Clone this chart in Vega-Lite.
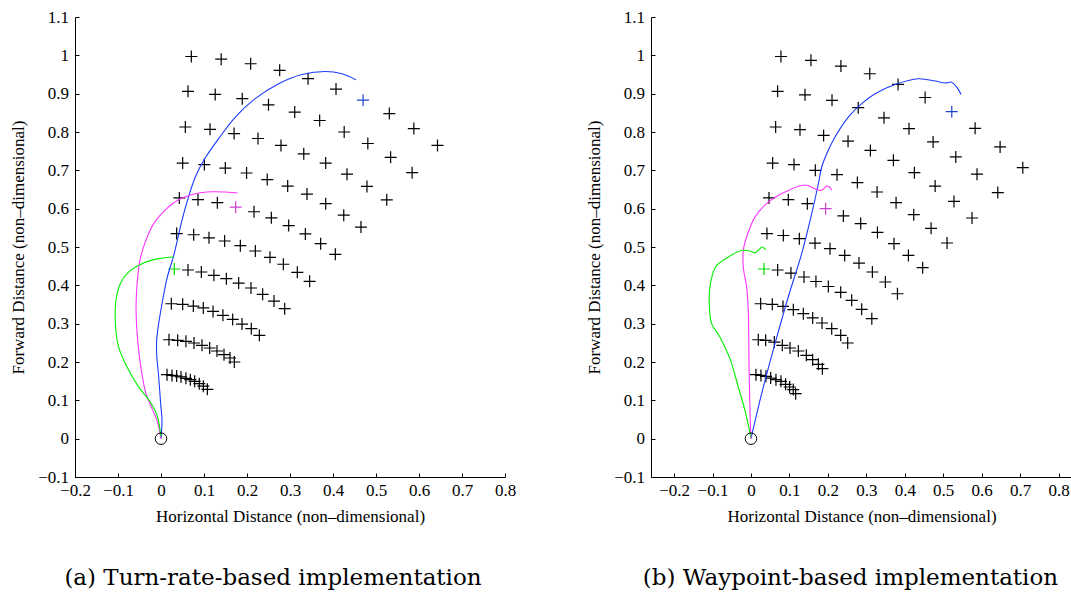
{
  "$schema": "https://vega.github.io/schema/vega-lite/v6.json",
  "background": "white",
  "padding": {"left": 9, "top": 8, "right": 0, "bottom": 0},
  "bounds": "flush",
  "spacing": 146,
  "config": {
    "view": {"stroke": null},
    "axis": {
      "grid": false,
      "domainColor": "black",
      "domainWidth": 1,
      "tickColor": "black",
      "tickWidth": 1,
      "tickSize": -4,
      "labelFont": "Liberation Serif",
      "labelFontSize": 17,
      "labelColor": "black",
      "labelFlush": false,
      "labelOverlap": false,
      "titleFont": "Liberation Serif",
      "titleFontSize": 17,
      "titleFontWeight": "normal",
      "titleColor": "black"
    }
  },
  "datasets": {
    "pa": [
      {"x":0.0705,"y":0.997,"c":"k"},{"x":0.140,"y":0.990,"c":"k"},{"x":0.2085,"y":0.978,"c":"k"},{"x":0.276,"y":0.961,"c":"k"},{"x":0.342,"y":0.939,"c":"k"},{"x":0.407,"y":0.912,"c":"k"},{"x":0.470,"y":0.883,"c":"b"},{"x":0.531,"y":0.848,"c":"k"},{"x":0.588,"y":0.809,"c":"k"},{"x":0.643,"y":0.765,"c":"k"},
      {"x":0.0628,"y":0.906,"c":"k"},{"x":0.126,"y":0.898,"c":"k"},{"x":0.189,"y":0.887,"c":"k"},{"x":0.250,"y":0.871,"c":"k"},{"x":0.311,"y":0.852,"c":"k"},{"x":0.369,"y":0.830,"c":"k"},{"x":0.426,"y":0.800,"c":"k"},{"x":0.481,"y":0.770,"c":"k"},{"x":0.534,"y":0.734,"c":"k"},{"x":0.584,"y":0.694,"c":"k"},
      {"x":0.0566,"y":0.813,"c":"k"},{"x":0.114,"y":0.807,"c":"k"},{"x":0.170,"y":0.796,"c":"k"},{"x":0.2256,"y":0.783,"c":"k"},{"x":0.279,"y":0.765,"c":"k"},{"x":0.332,"y":0.743,"c":"k"},{"x":0.383,"y":0.719,"c":"k"},{"x":0.4326,"y":0.690,"c":"k"},{"x":0.479,"y":0.658,"c":"k"},{"x":0.525,"y":0.623,"c":"k"},
      {"x":0.0504,"y":0.719,"c":"k"},{"x":0.1008,"y":0.715,"c":"k"},{"x":0.1496,"y":0.706,"c":"k"},{"x":0.199,"y":0.693,"c":"k"},{"x":0.247,"y":0.676,"c":"k"},{"x":0.2946,"y":0.659,"c":"k"},{"x":0.3395,"y":0.638,"c":"k"},{"x":0.383,"y":0.613,"c":"k"},{"x":0.425,"y":0.583,"c":"k"},{"x":0.465,"y":0.552,"c":"k"},
      {"x":0.0426,"y":0.628,"c":"k"},{"x":0.086,"y":0.6235,"c":"k"},{"x":0.131,"y":0.6157,"c":"k"},{"x":0.1736,"y":0.604,"c":"m"},{"x":0.2163,"y":0.592,"c":"k"},{"x":0.2566,"y":0.576,"c":"k"},{"x":0.297,"y":0.556,"c":"k"},{"x":0.3357,"y":0.534,"c":"k"},{"x":0.3713,"y":0.5087,"c":"k"},{"x":0.4054,"y":0.481,"c":"k"},
      {"x":0.0364,"y":0.535,"c":"k"},{"x":0.076,"y":0.532,"c":"k"},{"x":0.1116,"y":0.524,"c":"k"},{"x":0.148,"y":0.5157,"c":"k"},{"x":0.1845,"y":0.5035,"c":"k"},{"x":0.2194,"y":0.4896,"c":"k"},{"x":0.2535,"y":0.473,"c":"k"},{"x":0.2845,"y":0.455,"c":"k"},{"x":0.317,"y":0.434,"c":"k"},{"x":0.3457,"y":0.4104,"c":"k"},
      {"x":0.031,"y":0.4426,"c":"g"},{"x":0.0628,"y":0.44,"c":"k"},{"x":0.0938,"y":0.4348,"c":"k"},{"x":0.123,"y":0.426,"c":"k"},{"x":0.152,"y":0.4174,"c":"k"},{"x":0.1806,"y":0.406,"c":"k"},{"x":0.2093,"y":0.393,"c":"k"},{"x":0.2364,"y":0.3765,"c":"k"},{"x":0.2628,"y":0.359,"c":"k"},{"x":0.2876,"y":0.339,"c":"k"},
      {"x":0.024,"y":0.352,"c":"k"},{"x":0.0504,"y":0.3504,"c":"k"},{"x":0.0752,"y":0.346,"c":"k"},{"x":0.0984,"y":0.341,"c":"k"},{"x":0.121,"y":0.332,"c":"k"},{"x":0.144,"y":0.3217,"c":"k"},{"x":0.1667,"y":0.311,"c":"k"},{"x":0.1884,"y":0.299,"c":"k"},{"x":0.21,"y":0.287,"c":"k"},{"x":0.2287,"y":0.2696,"c":"k"},
      {"x":0.0186,"y":0.258,"c":"k"},{"x":0.0388,"y":0.2565,"c":"k"},{"x":0.058,"y":0.254,"c":"k"},{"x":0.0767,"y":0.2496,"c":"k"},{"x":0.0953,"y":0.2435,"c":"k"},{"x":0.1132,"y":0.2365,"c":"k"},{"x":0.1302,"y":0.2287,"c":"k"},{"x":0.1465,"y":0.219,"c":"k"},{"x":0.1605,"y":0.2104,"c":"k"},{"x":0.1705,"y":0.2,"c":"k"},
      {"x":0.014,"y":0.167,"c":"k"},{"x":0.0256,"y":0.165,"c":"k"},{"x":0.0364,"y":0.1635,"c":"k"},{"x":0.0465,"y":0.161,"c":"k"},{"x":0.058,"y":0.1574,"c":"k"},{"x":0.0682,"y":0.154,"c":"k"},{"x":0.0783,"y":0.1496,"c":"k"},{"x":0.089,"y":0.1435,"c":"k"},{"x":0.0984,"y":0.137,"c":"k"},{"x":0.1078,"y":0.1287,"c":"k"}
    ],
    "la": [
      {"s":"b","o":0,"x":0,"y":0},{"s":"b","o":1,"x":0.0023,"y":0.048},{"s":"b","o":2,"x":-0.0008,"y":0.0913},{"s":"b","o":3,"x":-0.0054,"y":0.161},{"s":"b","o":4,"x":-0.0101,"y":0.2217},{"s":"b","o":5,"x":-0.0101,"y":0.2565},{"s":"b","o":6,"x":-0.0054,"y":0.300},{"s":"b","o":7,"x":0.0023,"y":0.352},{"s":"b","o":8,"x":0.0147,"y":0.4217},{"s":"b","o":9,"x":0.0287,"y":0.474},{"s":"b","o":10,"x":0.038,"y":0.517},{"s":"b","o":11,"x":0.0488,"y":0.5696},{"s":"b","o":12,"x":0.0628,"y":0.626},{"s":"b","o":13,"x":0.0798,"y":0.6826},{"s":"b","o":14,"x":0.1016,"y":0.730},{"s":"b","o":15,"x":0.134,"y":0.7826},{"s":"b","o":16,"x":0.1729,"y":0.839},{"s":"b","o":17,"x":0.219,"y":0.887},{"s":"b","o":18,"x":0.2736,"y":0.926},{"s":"b","o":19,"x":0.328,"y":0.950},{"s":"b","o":20,"x":0.382,"y":0.958},{"s":"b","o":21,"x":0.421,"y":0.952},{"s":"b","o":22,"x":0.4535,"y":0.9365},
      {"s":"m","o":0,"x":0,"y":0},{"s":"m","o":1,"x":-0.0093,"y":0.0478},{"s":"m","o":2,"x":-0.0209,"y":0.0783},{"s":"m","o":3,"x":-0.0349,"y":0.1174},{"s":"m","o":4,"x":-0.0457,"y":0.178},{"s":"m","o":5,"x":-0.0535,"y":0.248},{"s":"m","o":6,"x":-0.058,"y":0.335},{"s":"m","o":7,"x":-0.0566,"y":0.387},{"s":"m","o":8,"x":-0.0504,"y":0.4565},{"s":"m","o":9,"x":-0.038,"y":0.5087},{"s":"m","o":10,"x":-0.017,"y":0.561},{"s":"m","o":11,"x":0.010,"y":0.597},{"s":"m","o":12,"x":0.041,"y":0.6235},{"s":"m","o":13,"x":0.0798,"y":0.639},{"s":"m","o":14,"x":0.1186,"y":0.644},{"s":"m","o":15,"x":0.1496,"y":0.6435},{"s":"m","o":16,"x":0.178,"y":0.641},
      {"s":"g","o":0,"x":0,"y":0.005},{"s":"g","o":1,"x":-0.0093,"y":0.061},{"s":"g","o":2,"x":-0.0248,"y":0.0957},{"s":"g","o":3,"x":-0.052,"y":0.135},{"s":"g","o":4,"x":-0.079,"y":0.187},{"s":"g","o":5,"x":-0.0984,"y":0.239},{"s":"g","o":6,"x":-0.106,"y":0.300},{"s":"g","o":7,"x":-0.1047,"y":0.361},{"s":"g","o":8,"x":-0.0946,"y":0.404},{"s":"g","o":9,"x":-0.075,"y":0.435},{"s":"g","o":10,"x":-0.044,"y":0.4565},{"s":"g","o":11,"x":-0.0054,"y":0.4696},{"s":"g","o":12,"x":0.0295,"y":0.474}
    ],
    "pb": [
      {"x":0.078,"y":0.997,"c":"k"},{"x":0.156,"y":0.987,"c":"k"},{"x":0.234,"y":0.972,"c":"k"},{"x":0.309,"y":0.952,"c":"k"},{"x":0.3826,"y":0.924,"c":"k"},{"x":0.453,"y":0.890,"c":"k"},{"x":0.5223,"y":0.853,"c":"b"},{"x":0.583,"y":0.8096,"c":"k"},{"x":0.648,"y":0.761,"c":"k"},{"x":0.707,"y":0.707,"c":"k"},
      {"x":0.0694,"y":0.906,"c":"k"},{"x":0.1405,"y":0.897,"c":"k"},{"x":0.2108,"y":0.8826,"c":"k"},{"x":0.279,"y":0.8635,"c":"k"},{"x":0.346,"y":0.837,"c":"k"},{"x":0.411,"y":0.8087,"c":"k"},{"x":0.4737,"y":0.774,"c":"k"},{"x":0.5327,"y":0.735,"c":"k"},{"x":0.588,"y":0.690,"c":"k"},{"x":0.642,"y":0.642,"c":"k"},
      {"x":0.0642,"y":0.813,"c":"k"},{"x":0.1275,"y":0.806,"c":"k"},{"x":0.189,"y":0.791,"c":"k"},{"x":0.2525,"y":0.776,"c":"k"},{"x":0.3106,"y":0.752,"c":"k"},{"x":0.3705,"y":0.726,"c":"k"},{"x":0.425,"y":0.694,"c":"k"},{"x":0.479,"y":0.659,"c":"k"},{"x":0.528,"y":0.619,"c":"k"},{"x":0.575,"y":0.5757,"c":"k"},
      {"x":0.0564,"y":0.719,"c":"k"},{"x":0.112,"y":0.715,"c":"k"},{"x":0.1674,"y":0.700,"c":"k"},{"x":0.2238,"y":0.6887,"c":"k"},{"x":0.2768,"y":0.668,"c":"k"},{"x":0.328,"y":0.6435,"c":"k"},{"x":0.3774,"y":0.6157,"c":"k"},{"x":0.4234,"y":0.5843,"c":"k"},{"x":0.4685,"y":0.5487,"c":"k"},{"x":0.510,"y":0.5104,"c":"k"},
      {"x":0.0469,"y":0.628,"c":"k"},{"x":0.0972,"y":0.6235,"c":"k"},{"x":0.1466,"y":0.613,"c":"k"},{"x":0.1943,"y":0.600,"c":"m"},{"x":0.2403,"y":0.581,"c":"k"},{"x":0.2854,"y":0.561,"c":"k"},{"x":0.329,"y":0.538,"c":"k"},{"x":0.372,"y":0.5087,"c":"k"},{"x":0.4095,"y":0.478,"c":"k"},{"x":0.4466,"y":0.446,"c":"k"},
      {"x":0.0416,"y":0.535,"c":"k"},{"x":0.0842,"y":0.530,"c":"k"},{"x":0.1258,"y":0.5217,"c":"k"},{"x":0.1666,"y":0.510,"c":"k"},{"x":0.2056,"y":0.4957,"c":"k"},{"x":0.2438,"y":0.478,"c":"k"},{"x":0.281,"y":0.458,"c":"k"},{"x":0.3158,"y":0.4348,"c":"k"},{"x":0.3496,"y":0.4087,"c":"k"},{"x":0.381,"y":0.378,"c":"k"},
      {"x":0.0338,"y":0.4426,"c":"g"},{"x":0.0694,"y":0.44,"c":"k"},{"x":0.104,"y":0.432,"c":"k"},{"x":0.138,"y":0.4217,"c":"k"},{"x":0.169,"y":0.410,"c":"k"},{"x":0.2013,"y":0.397,"c":"k"},{"x":0.2334,"y":0.3817,"c":"k"},{"x":0.262,"y":0.361,"c":"k"},{"x":0.288,"y":0.3374,"c":"k"},{"x":0.3143,"y":0.313,"c":"k"},
      {"x":0.0252,"y":0.352,"c":"k"},{"x":0.0555,"y":0.3504,"c":"k"},{"x":0.0833,"y":0.345,"c":"k"},{"x":0.1102,"y":0.3365,"c":"k"},{"x":0.1362,"y":0.326,"c":"k"},{"x":0.1605,"y":0.315,"c":"k"},{"x":0.1848,"y":0.3017,"c":"k"},{"x":0.21,"y":0.287,"c":"k"},{"x":0.2334,"y":0.2696,"c":"k"},{"x":0.2516,"y":0.2496,"c":"k"},
      {"x":0.0191,"y":0.258,"c":"k"},{"x":0.0382,"y":0.2565,"c":"k"},{"x":0.0607,"y":0.252,"c":"k"},{"x":0.0816,"y":0.2435,"c":"k"},{"x":0.1015,"y":0.2365,"c":"k"},{"x":0.1232,"y":0.2287,"c":"k"},{"x":0.144,"y":0.2174,"c":"k"},{"x":0.1605,"y":0.206,"c":"k"},{"x":0.1753,"y":0.194,"c":"k"},{"x":0.1857,"y":0.1826,"c":"k"},
      {"x":0.013,"y":0.167,"c":"k"},{"x":0.026,"y":0.165,"c":"k"},{"x":0.039,"y":0.1626,"c":"k"},{"x":0.0512,"y":0.158,"c":"k"},{"x":0.065,"y":0.154,"c":"k"},{"x":0.078,"y":0.1496,"c":"k"},{"x":0.090,"y":0.1417,"c":"k"},{"x":0.1006,"y":0.1348,"c":"k"},{"x":0.110,"y":0.128,"c":"k"},{"x":0.1163,"y":0.1174,"c":"k"}
    ],
    "lb": [
      {"s":"b","o":0,"x":0,"y":0},{"s":"b","o":1,"x":0.0278,"y":0.1174},{"s":"b","o":2,"x":0.0625,"y":0.2478},{"s":"b","o":3,"x":0.097,"y":0.3696},{"s":"b","o":4,"x":0.1319,"y":0.4826},{"s":"b","o":5,"x":0.158,"y":0.587},{"s":"b","o":6,"x":0.1753,"y":0.665},{"s":"b","o":7,"x":0.184,"y":0.7087},{"s":"b","o":8,"x":0.197,"y":0.7435},{"s":"b","o":9,"x":0.2186,"y":0.787},{"s":"b","o":10,"x":0.2533,"y":0.839},{"s":"b","o":11,"x":0.288,"y":0.874},{"s":"b","o":12,"x":0.3227,"y":0.900},{"s":"b","o":13,"x":0.3748,"y":0.924},{"s":"b","o":14,"x":0.4355,"y":0.939},{"s":"b","o":15,"x":0.479,"y":0.933},{"s":"b","o":16,"x":0.505,"y":0.928},{"s":"b","o":17,"x":0.5223,"y":0.930},{"s":"b","o":18,"x":0.5353,"y":0.917},{"s":"b","o":19,"x":0.5466,"y":0.898},
      {"s":"m","o":0,"x":0,"y":0},{"s":"m","o":1,"x":-0.0026,"y":0.074},{"s":"m","o":2,"x":-0.0052,"y":0.2043},{"s":"m","o":3,"x":-0.0069,"y":0.335},{"s":"m","o":4,"x":-0.0113,"y":0.3957},{"s":"m","o":5,"x":-0.020,"y":0.448},{"s":"m","o":6,"x":-0.020,"y":0.491},{"s":"m","o":7,"x":-0.0113,"y":0.526},{"s":"m","o":8,"x":0.0104,"y":0.578},{"s":"m","o":9,"x":0.0451,"y":0.617},{"s":"m","o":10,"x":0.0885,"y":0.6435},{"s":"m","o":11,"x":0.1405,"y":0.6617},{"s":"m","o":12,"x":0.1666,"y":0.652},{"s":"m","o":13,"x":0.184,"y":0.648},{"s":"m","o":14,"x":0.197,"y":0.659},{"s":"m","o":15,"x":0.2039,"y":0.6565},{"s":"m","o":16,"x":0.21,"y":0.648},
      {"s":"g","o":0,"x":0,"y":0.004},{"s":"g","o":1,"x":-0.0156,"y":0.074},{"s":"g","o":2,"x":-0.033,"y":0.1348},{"s":"g","o":3,"x":-0.0547,"y":0.2087},{"s":"g","o":4,"x":-0.0807,"y":0.265},{"s":"g","o":5,"x":-0.1024,"y":0.300},{"s":"g","o":6,"x":-0.1085,"y":0.352},{"s":"g","o":7,"x":-0.1067,"y":0.3957},{"s":"g","o":8,"x":-0.092,"y":0.448},{"s":"g","o":9,"x":-0.059,"y":0.474},{"s":"g","o":10,"x":-0.0243,"y":0.491},{"s":"g","o":11,"x":-0.0026,"y":0.4896},{"s":"g","o":12,"x":0.0104,"y":0.485},{"s":"g","o":13,"x":0.0234,"y":0.4957},{"s":"g","o":14,"x":0.0295,"y":0.500},{"s":"g","o":15,"x":0.0382,"y":0.493}
    ],
    "origin": [{"x":0,"y":0}]
  },
  "hconcat": [
    {
      "width": 430,
      "height": 460,
      "title": {"text": "(a) Turn-rate-based implementation", "orient": "bottom", "frame": "group", "anchor": "middle", "dx": -17, "offset": 43, "font": "DejaVu Serif", "fontSize": 23, "fontWeight": "normal", "color": "black"},
      "encoding": {
        "x": {"field": "x", "type": "quantitative", "scale": {"domain": [-0.2, 0.8], "nice": false, "zero": false}, "axis": {"values": [-0.2,-0.1,0,0.1,0.2,0.3,0.4,0.5,0.6,0.7,0.8], "labelExpr": "replace(format(datum.value, '.1f'), /\\.0$/, '')", "title": "Horizontal Distance (non\u2013dimensional)", "labelPadding": 9, "titleY": 39, "titleBaseline": "middle"}},
        "y": {"field": "y", "type": "quantitative", "scale": {"domain": [-0.1, 1.1], "nice": false, "zero": false}, "axis": {"values": [-0.1,0,0.1,0.2,0.3,0.4,0.5,0.6,0.7,0.8,0.9,1,1.1], "labelExpr": "replace(format(datum.value, '.1f'), /\\.0$/, '')", "title": "Forward Distance (non\u2013dimensional)", "labelPadding": 10.5, "titleX": -57, "titleBaseline": "middle"}}
      },
      "layer": [
        {
          "data": {"name": "pa"},
          "mark": {"type": "point", "shape": "M-1,0H1M0,-1V1", "size": 144, "strokeWidth": 1.2, "filled": false, "opacity": 1},
          "encoding": {
            "color": {"field": "c", "type": "nominal", "scale": {"domain": ["k","g","m","b"], "range": ["#000000","#00dd00","#d040d0","#2040d0"]}, "legend": null}
          }
        },
        {
          "data": {"name": "la"},
          "mark": {"type": "line", "strokeWidth": 1.1, "interpolate": "catmull-rom"},
          "encoding": {
            "detail": {"field": "s"},
            "order": {"field": "o", "type": "quantitative"},
            "stroke": {"field": "s", "type": "nominal", "scale": {"domain": ["g","m","b"], "range": ["#00ee00","#ff33ff","#1a3cff"]}, "legend": null}
          }
        },
        {
          "data": {"name": "origin"},
          "mark": {"type": "point", "shape": "circle", "size": 133, "filled": false, "color": "black", "strokeWidth": 1, "opacity": 1}
        }
      ]
    },
    {
      "width": 421,
      "height": 460,
      "title": {"text": "(b) Waypoint-based implementation", "orient": "bottom", "frame": "group", "anchor": "middle", "dx": -11, "offset": 43, "font": "DejaVu Serif", "fontSize": 23, "fontWeight": "normal", "color": "black"},
      "encoding": {
        "x": {"field": "x", "type": "quantitative", "scale": {"domain": [-0.26, 0.835], "nice": false, "zero": false}, "axis": {"values": [-0.2,-0.1,0,0.1,0.2,0.3,0.4,0.5,0.6,0.7,0.8], "labelExpr": "replace(format(datum.value, '.1f'), /\\.0$/, '')", "title": "Horizontal Distance (non\u2013dimensional)", "labelPadding": 9, "titleY": 39, "titleBaseline": "middle"}},
        "y": {"field": "y", "type": "quantitative", "scale": {"domain": [-0.1, 1.1], "nice": false, "zero": false}, "axis": {"values": [-0.1,0,0.1,0.2,0.3,0.4,0.5,0.6,0.7,0.8,0.9,1,1.1], "labelExpr": "replace(format(datum.value, '.1f'), /\\.0$/, '')", "title": "Forward Distance (non\u2013dimensional)", "labelPadding": 10.5, "titleX": -57, "titleBaseline": "middle"}}
      },
      "layer": [
        {
          "data": {"name": "pb"},
          "mark": {"type": "point", "shape": "M-1,0H1M0,-1V1", "size": 144, "strokeWidth": 1.2, "filled": false, "opacity": 1},
          "encoding": {
            "color": {"field": "c", "type": "nominal", "scale": {"domain": ["k","g","m","b"], "range": ["#000000","#00dd00","#d040d0","#2040d0"]}, "legend": null}
          }
        },
        {
          "data": {"name": "lb"},
          "mark": {"type": "line", "strokeWidth": 1.1, "interpolate": "catmull-rom"},
          "encoding": {
            "detail": {"field": "s"},
            "order": {"field": "o", "type": "quantitative"},
            "stroke": {"field": "s", "type": "nominal", "scale": {"domain": ["g","m","b"], "range": ["#00ee00","#ff33ff","#1a3cff"]}, "legend": null}
          }
        },
        {
          "data": {"name": "origin"},
          "mark": {"type": "point", "shape": "circle", "size": 133, "filled": false, "color": "black", "strokeWidth": 1, "opacity": 1}
        }
      ]
    }
  ]
}
